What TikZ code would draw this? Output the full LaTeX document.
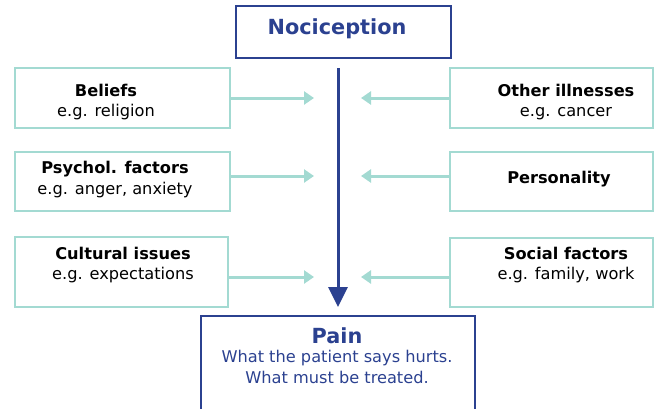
\documentclass[tikz,border=0pt]{standalone}
\usepackage{fontspec}
\setmainfont{DejaVu Sans}
\usetikzlibrary{arrows.meta}
\definecolor{navy}{HTML}{2B4190}
\definecolor{teal}{HTML}{A3DAD2}
\tikzset{
  factorbox/.style={draw=teal, line width=1.3pt, minimum width=#1, inner sep=0pt},
  mainbox/.style={draw=navy, line width=1.3pt, inner sep=0pt},
  lbl/.style={align=center, font=\fontsize{16.2}{20.5}\selectfont, inner sep=0pt},
  feed/.style={draw=teal, line width=3pt, -{Triangle[length=10pt,width=13pt]}},
}
\begin{document}
\begin{tikzpicture}[x=1pt,y=-1pt]
\useasboundingbox (0,0) rectangle (655,408);
% top box
\node[mainbox, minimum width=215pt, minimum height=52pt] (noc) at (343.5,32) {};
\node[font=\fontsize{20.8}{24}\selectfont\bfseries, text=navy, inner sep=0pt] (noct) at (337,29) {Nociception};
% bottom box
\draw[navy, line width=1.3pt] (201,420) |- (475,316) -- (475,420);
\coordinate (painn) at (338,316);
\node[font=\fontsize{20.8}{24}\selectfont\bfseries, text=navy, inner sep=0pt] (pain) at (337,336) {Pain};
\node[lbl, text=navy, anchor=north] (painsub) at (337,350) {What the patient says hurts.\\What must be treated.};
% main arrow
\coordinate (mainstart) at (338,68);
\coordinate (maintip) at (338,307);
\draw[navy, line width=3pt, -{Triangle[length=20pt,width=19pt]}] (mainstart) -- (maintip);
% left boxes
\node[factorbox=215pt, minimum height=60pt] (b1) at (122.5,98) {};
\node[factorbox=215pt, minimum height=59pt] (b2) at (122.5,181.5) {};
\node[factorbox=213pt, minimum height=70pt] (b3) at (121.5,272) {};
\node[lbl] (t1) at (106,102) {\textbf{Beliefs}\\e.g. religion};
\node[lbl] (t2) at (115,179.5) {\textbf{Psychol. factors}\\e.g. anger, anxiety};
\node[lbl] (t3) at (123,265) {\textbf{Cultural issues}\\e.g. expectations};
% right boxes
\node[factorbox=203pt, minimum height=60pt] (r1) at (551.5,98) {};
\node[factorbox=203pt, minimum height=59pt] (r2) at (551.5,181.5) {};
\node[factorbox=203pt, minimum height=69pt] (r3) at (551.5,272.5) {};
\node[lbl] (s1) at (566,102) {\textbf{Other illnesses}\\e.g. cancer};
\node[lbl] (s2) at (559,179) {\textbf{Personality}};
\node[lbl] (s3) at (566,265) {\textbf{Social factors}\\e.g. family, work};
% arrow tips
\coordinate (la1) at (314,98);
\coordinate (la2) at (314,176);
\coordinate (la3) at (314,277);
\coordinate (ra1) at (361,98);
\coordinate (ra2) at (361,176);
\coordinate (ra3) at (361,277);
\draw[feed] (b1.east |- la1) -- (la1);
\draw[feed] (b2.east |- la2) -- (la2);
\draw[feed] (b3.east |- la3) -- (la3);
\draw[feed] (r1.west |- ra1) -- (ra1);
\draw[feed] (r2.west |- ra2) -- (ra2);
\draw[feed] (r3.west |- ra3) -- (ra3);
\end{tikzpicture}
\end{document}
